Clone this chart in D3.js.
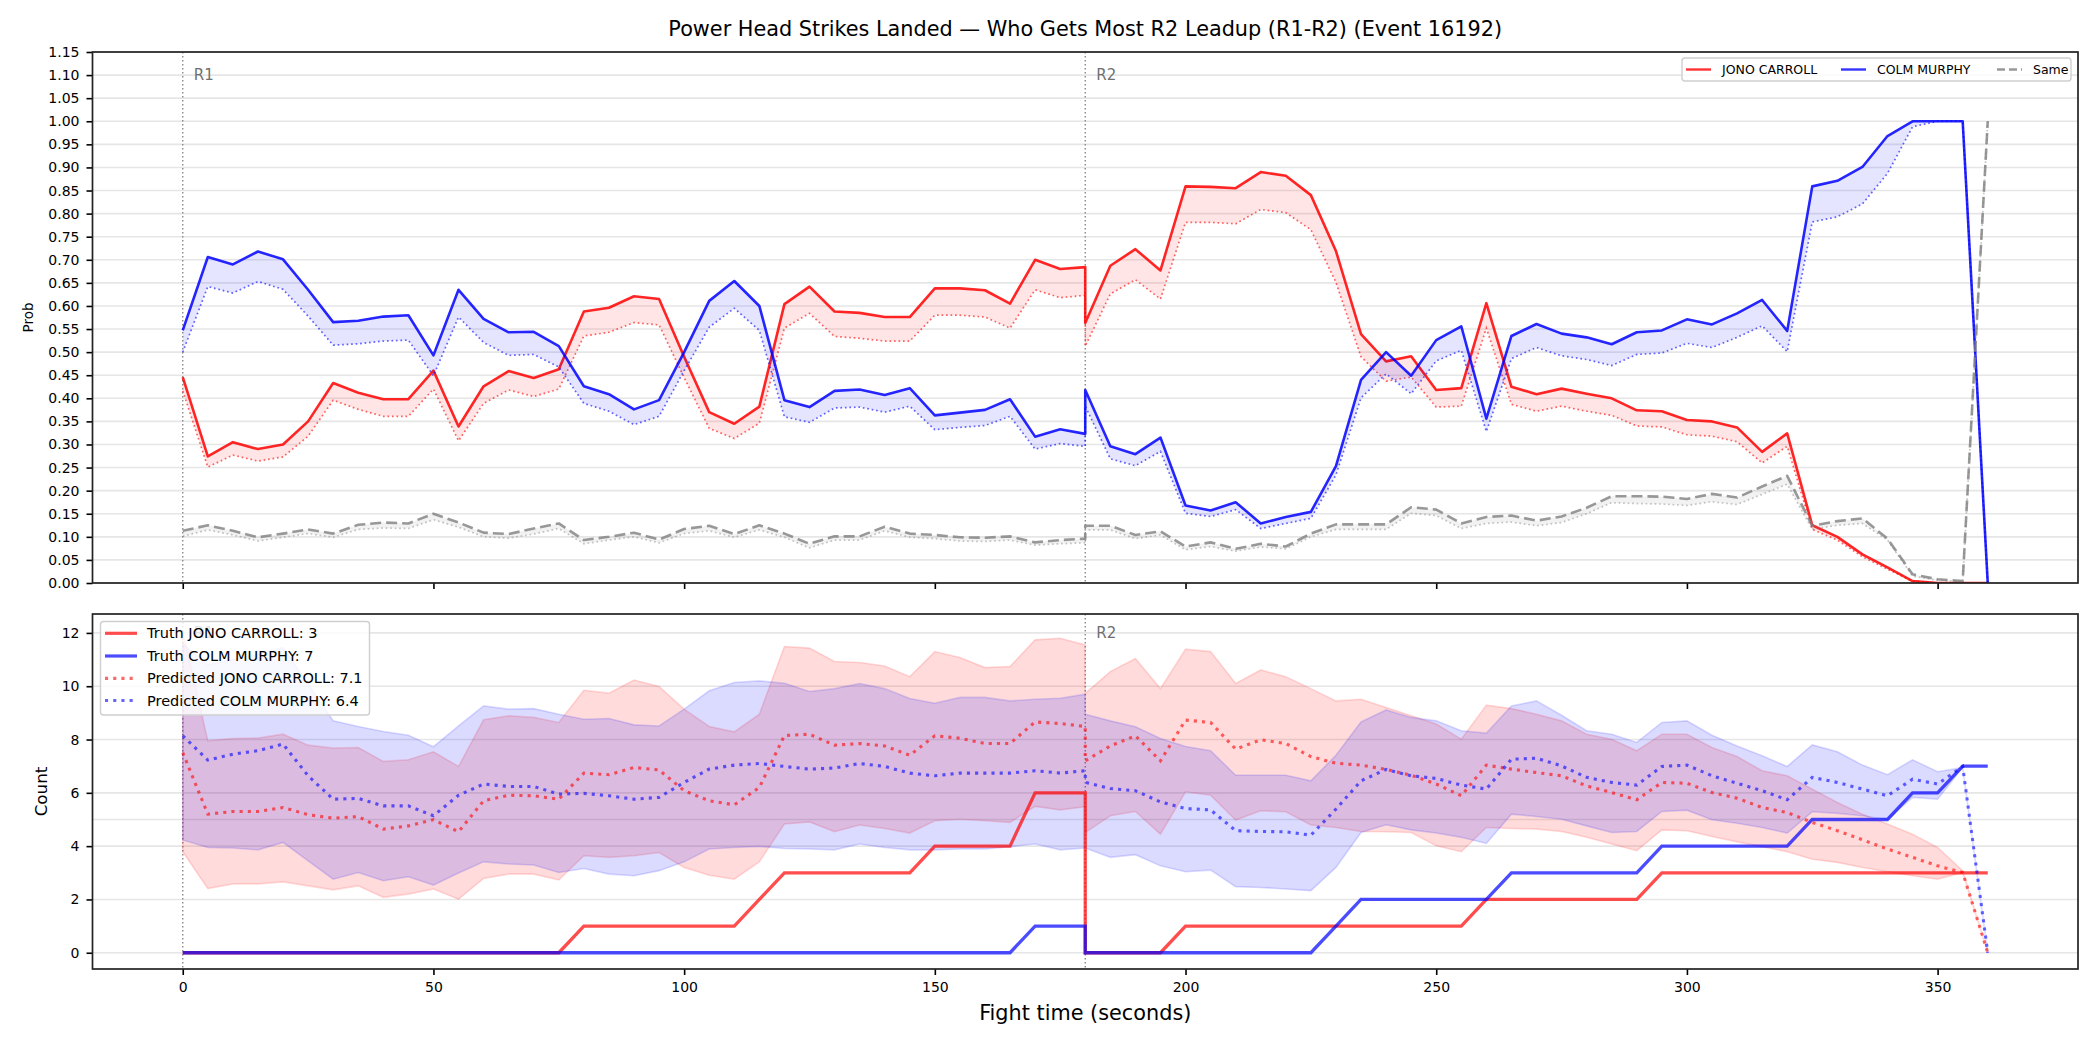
<!DOCTYPE html>
<html>
<head>
<meta charset="utf-8">
<script src="https://cdn.jsdelivr.net/npm/d3@7"></script>
<style>
  body { margin: 0; background: #fff; }
  text { font-family: "DejaVu Sans", sans-serif; }
</style>
</head>
<body>
<svg id="chart" width="2100" height="1050"></svg>
<script>
// fight time (s); round 1 and round 2 both carry a point at 180
const fightTime = [0,5,10,15,20,25,30,35,40,45,50,55,60,65,70,75,80,85,90,95,100,105,110,115,120,125,130,135,140,145,150,155,160,165,170,175,180,
  180,185,190,195,200,205,210,215,220,225,230,235,240,245,250,255,260,265,270,275,280,285,290,295,300,305,310,315,320,325,330,335,340,345,350,355,360];

// top panel: probability of getting most strikes (solid) and lower estimate (dotted)
const jonoProb = [0.446,0.274,0.305,0.290,0.300,0.350,0.433,0.412,0.398,0.398,0.460,0.339,0.426,0.459,0.444,0.463,0.588,0.596,0.621,0.615,0.490,0.370,0.345,0.382,0.604,0.642,0.588,0.585,0.576,0.576,0.638,0.638,0.634,0.605,0.700,0.680,0.684,
  0.563,0.687,0.723,0.677,0.859,0.858,0.855,0.890,0.882,0.840,0.719,0.539,0.480,0.491,0.418,0.422,0.606,0.425,0.409,0.421,0.410,0.400,0.374,0.372,0.353,0.350,0.337,0.284,0.324,0.125,0.100,0.062,0.034,0.004,0,0,0];
const jonoProbLow = [0.416,0.251,0.277,0.264,0.273,0.318,0.396,0.376,0.361,0.361,0.420,0.308,0.389,0.418,0.404,0.420,0.535,0.543,0.564,0.559,0.445,0.335,0.313,0.346,0.552,0.584,0.534,0.530,0.524,0.524,0.580,0.580,0.576,0.552,0.635,0.618,0.623,
  0.513,0.626,0.657,0.615,0.781,0.781,0.778,0.809,0.802,0.765,0.651,0.490,0.437,0.446,0.381,0.383,0.552,0.387,0.372,0.383,0.372,0.363,0.340,0.338,0.321,0.318,0.306,0.260,0.296,0.116,0.093,0.057,0.030,0.004,0,0,0];
const colmProb = [0.547,0.706,0.690,0.718,0.701,0.635,0.565,0.568,0.577,0.580,0.493,0.635,0.572,0.543,0.544,0.513,0.426,0.409,0.376,0.396,0.500,0.611,0.654,0.600,0.396,0.381,0.416,0.419,0.407,0.422,0.363,0.369,0.375,0.398,0.317,0.333,0.323,
  0.418,0.296,0.279,0.315,0.168,0.157,0.175,0.129,0.143,0.154,0.253,0.440,0.500,0.449,0.526,0.556,0.356,0.535,0.561,0.540,0.532,0.517,0.543,0.547,0.571,0.560,0.584,0.613,0.546,0.859,0.871,0.901,0.968,1.0,1.0,1.0,0];
const colmProbLow = [0.500,0.642,0.628,0.653,0.636,0.578,0.515,0.518,0.524,0.526,0.449,0.576,0.521,0.493,0.495,0.468,0.389,0.372,0.343,0.361,0.460,0.554,0.595,0.547,0.360,0.348,0.379,0.381,0.370,0.383,0.332,0.337,0.341,0.361,0.290,0.302,0.296,
  0.383,0.269,0.254,0.285,0.151,0.144,0.159,0.118,0.129,0.140,0.234,0.401,0.453,0.410,0.481,0.504,0.328,0.486,0.510,0.492,0.484,0.471,0.495,0.498,0.519,0.510,0.532,0.557,0.501,0.782,0.793,0.821,0.887,0.988,1.0,1.0,0];
const sameProb = [0.113,0.125,0.113,0.099,0.107,0.116,0.107,0.126,0.131,0.129,0.150,0.131,0.109,0.106,0.118,0.129,0.093,0.100,0.109,0.094,0.117,0.124,0.106,0.125,0.107,0.085,0.101,0.101,0.122,0.107,0.104,0.099,0.098,0.101,0.088,0.093,0.096,
  0.124,0.124,0.104,0.112,0.079,0.088,0.074,0.085,0.079,0.107,0.127,0.127,0.127,0.164,0.159,0.129,0.143,0.146,0.135,0.144,0.163,0.188,0.188,0.187,0.182,0.193,0.185,0.209,0.232,0.124,0.134,0.140,0.096,0.019,0.008,0.004,1.0];
const sameProbLow = [0.101,0.115,0.104,0.091,0.099,0.107,0.099,0.116,0.119,0.118,0.137,0.121,0.100,0.097,0.106,0.118,0.085,0.093,0.100,0.087,0.107,0.113,0.099,0.115,0.099,0.076,0.093,0.093,0.113,0.099,0.096,0.091,0.090,0.093,0.082,0.085,0.087,
  0.115,0.115,0.096,0.104,0.072,0.079,0.069,0.078,0.074,0.100,0.116,0.116,0.116,0.151,0.146,0.118,0.129,0.132,0.124,0.131,0.150,0.174,0.172,0.171,0.168,0.176,0.170,0.192,0.214,0.116,0.125,0.129,0.093,0.015,0.006,0.003,1.0];

// bottom panel: counts
const truthJono = [0,0,0,0,0,0,0,0,0,0,0,0,0,0,0,0,1,1,1,1,1,1,1,2,3,3,3,3,3,3,4,4,4,4,6,6,6,
  0,0,0,0,1,1,1,1,1,1,1,1,1,1,1,1,2,2,2,2,2,2,2,3,3,3,3,3,3,3,3,3,3,3,3,3,3];
const truthColm = [0,0,0,0,0,0,0,0,0,0,0,0,0,0,0,0,0,0,0,0,0,0,0,0,0,0,0,0,0,0,0,0,0,0,1,1,1,
  0,0,0,0,0,0,0,0,0,0,1,2,2,2,2,2,2,3,3,3,3,3,3,4,4,4,4,4,4,5,5,5,5,6,6,7,7];
const predJono = [7.51,5.20,5.30,5.30,5.45,5.18,5.05,5.11,4.64,4.76,4.99,4.54,5.70,5.91,5.89,5.76,6.74,6.68,6.95,6.86,6.08,5.70,5.55,6.20,8.15,8.20,7.79,7.85,7.76,7.41,8.14,8.05,7.85,7.85,8.66,8.60,8.49,
  7.20,7.76,8.14,7.20,8.73,8.64,7.64,7.99,7.85,7.36,7.11,7.04,6.88,6.66,6.33,5.89,7.04,6.89,6.76,6.64,6.26,6.01,5.74,6.39,6.36,6.01,5.80,5.45,5.26,4.89,4.58,4.24,3.89,3.58,3.26,3.01,0];
const predColm = [8.14,7.23,7.45,7.58,7.83,6.64,5.76,5.79,5.51,5.51,5.14,5.91,6.33,6.24,6.24,5.95,5.98,5.89,5.76,5.83,6.39,6.89,7.04,7.10,6.99,6.89,6.93,7.10,6.99,6.74,6.64,6.74,6.74,6.74,6.83,6.74,6.83,
  6.39,6.16,6.08,5.66,5.41,5.36,4.58,4.55,4.54,4.41,5.39,6.45,6.88,6.64,6.54,6.29,6.14,7.26,7.30,7.01,6.58,6.39,6.29,6.99,7.04,6.64,6.36,6.08,5.74,6.58,6.39,6.14,5.89,6.51,6.33,6.99,0];
const jonoHigh = [12.10,7.95,8.04,8.06,8.20,7.79,7.68,7.70,7.18,7.24,7.54,6.99,8.74,8.89,8.83,8.64,9.85,9.74,10.23,9.99,9.14,8.49,8.29,8.95,11.49,11.43,10.93,10.89,10.76,10.36,11.30,11.08,10.70,10.74,11.74,11.80,11.55,
  9.73,10.55,11.04,9.91,11.39,11.30,10.10,10.61,10.36,9.91,9.45,9.51,9.20,8.89,8.58,8.01,9.29,9.16,8.95,8.70,8.20,8.01,7.58,8.20,8.20,7.70,7.36,6.83,6.64,6.14,5.64,5.20,4.83,4.45,3.95,3.08,0];
const jonoLow = [3.79,2.41,2.58,2.58,2.66,2.51,2.36,2.51,2.08,2.20,2.39,2.01,2.79,2.95,2.95,2.73,3.64,3.58,3.64,3.76,3.20,2.91,2.76,3.41,4.83,4.91,4.54,4.79,4.66,4.49,4.95,5.01,4.95,4.89,5.49,5.36,5.48,
  4.51,5.14,5.30,4.45,6.04,5.91,4.98,5.33,5.29,4.79,4.70,4.55,4.54,4.51,4.01,3.79,4.70,4.66,4.64,4.55,4.33,4.08,3.83,4.61,4.58,4.36,4.16,3.98,3.79,3.51,3.39,3.20,3.04,2.89,2.76,3.01,0];
const colmHigh = [11.60,10.80,11.00,11.20,11.45,10.10,8.70,8.49,8.30,8.16,7.73,8.51,9.26,9.14,9.16,8.95,8.76,8.79,8.55,8.51,9.14,9.83,10.14,10.20,10.11,9.80,9.91,10.10,9.91,9.54,9.36,9.58,9.58,9.45,9.51,9.55,9.70,
  8.95,8.70,8.48,8.04,7.74,7.58,6.66,6.66,6.66,6.45,7.41,8.66,9.11,8.83,8.70,8.33,8.24,9.26,9.45,8.91,8.33,8.20,7.89,8.64,8.70,8.16,7.76,7.39,6.99,7.80,7.54,7.04,6.68,7.24,6.79,6.95,0];
const colmLow = [4.23,3.95,3.93,3.86,4.14,3.45,2.76,3.01,2.70,2.85,2.54,2.99,3.41,3.33,3.29,3.01,3.16,2.95,2.89,3.08,3.41,3.89,3.95,3.99,3.91,3.89,3.86,4.08,3.95,3.86,3.86,3.89,3.89,3.98,4.08,3.86,3.93,
  3.93,3.58,3.68,3.26,3.04,3.10,2.48,2.45,2.39,2.33,3.20,4.51,4.80,4.61,4.49,4.33,4.10,5.20,5.11,5.01,4.76,4.51,4.55,5.30,5.35,4.99,4.86,4.70,4.49,5.29,5.23,5.14,4.99,5.83,5.76,6.95,0];

const fighters = ['JONO CARROLL', 'COLM MURPHY'];
const predictedTotals = [7.1, 6.4];
const roundLabels = ['R1', 'R2'];
const roundStarts = [0, 180];
const probTicks = [0,0.05,0.10,0.15,0.20,0.25,0.30,0.35,0.40,0.45,0.50,0.55,0.60,0.65,0.70,0.75,0.80,0.85,0.90,0.95,1.00,1.05,1.10,1.15];
const countTicks = [0,2,4,6,8,10,12];
const countGrid = [0,2,4,5,6,8,10,12];
const timeTicks = [0,50,100,150,200,250,300,350];

const RED = '#ff0000', BLUE = '#0000ff', GRAY = '#808080';
const svg = d3.select('#chart');

const x = d3.scaleLinear().domain([-18, 378]).range([92.5, 2078]);
const yProb = d3.scaleLinear().domain([0, 1.15]).range([583, 52]);
const yCount = d3.scaleLinear().domain([-0.61, 12.71]).range([969, 614]);

function line(y, vals) {
  return d3.line().x((d, i) => x(fightTime[i])).y(d => y(d))(vals);
}
function band(y, lo, hi) {
  return d3.area().x((d, i) => x(fightTime[i])).y0((d, i) => y(lo[i])).y1((d, i) => y(hi[i]))(lo);
}

function setupPanel(y, grid, id, labelY) {
  const [yb, yt] = y.range();
  const [xl, xr] = x.range();
  const g = svg.append('g');
  g.append('clipPath').attr('id', id).append('rect')
    .attr('x', xl).attr('y', yt).attr('width', xr - xl).attr('height', yb - yt);
  g.append('g').selectAll('line').data(grid).join('line')
    .attr('x1', xl).attr('x2', xr).attr('y1', d => y(d)).attr('y2', d => y(d))
    .attr('stroke', '#b0b0b0').attr('stroke-opacity', 0.32).attr('stroke-width', 1.6);
  g.append('g').selectAll('line').data(roundStarts).join('line')
    .attr('x1', d => x(d)).attr('x2', d => x(d)).attr('y1', yt).attr('y2', yb)
    .attr('stroke', GRAY).attr('stroke-width', 1.3).attr('stroke-dasharray', '1.5,2.5');
  g.append('g').selectAll('text').data(roundLabels).join('text')
    .attr('x', (d, i) => x(roundStarts[i]) + 11).attr('y', labelY).attr('dy', '0.35em')
    .attr('font-size', 15).attr('fill', '#707070').text(d => d);
  const plot = g.append('g').attr('clip-path', `url(#${id})`);
  return { g, plot };
}

function finishPanel(g, y, ticks, fmt, showX) {
  const [yb, yt] = y.range();
  const [xl, xr] = x.range();
  const ya = g.append('g').attr('transform', `translate(${xl},0)`)
    .call(d3.axisLeft(y).tickValues(ticks).tickFormat(fmt).tickSize(6).tickPadding(7));
  const xa = g.append('g').attr('transform', `translate(0,${yb})`)
    .call(d3.axisBottom(x).tickValues(timeTicks).tickFormat(showX ? d3.format('d') : '').tickSize(6).tickPadding(7));
  [ya, xa].forEach(a => {
    a.select('.domain').remove();
    a.selectAll('line').attr('stroke', '#000').attr('stroke-width', 1.6);
    a.selectAll('text').attr('font-size', 14).attr('fill', '#000').attr('font-family', '"DejaVu Sans", sans-serif');
  });
  g.append('rect').attr('x', xl).attr('y', yt).attr('width', xr - xl).attr('height', yb - yt)
    .attr('fill', 'none').attr('stroke', '#222').attr('stroke-width', 1.7);
}

// ---------- top panel ----------
const topPanel = setupPanel(yProb, probTicks, 'clipTop', yProb(1.10));
const probSets = [
  { hi: jonoProb, lo: jonoProbLow, c: RED, dash: null },
  { hi: colmProb, lo: colmProbLow, c: BLUE, dash: null },
  { hi: sameProb, lo: sameProbLow, c: GRAY, dash: '11,5' }
];
probSets.forEach(s => {
  topPanel.plot.append('path').attr('d', band(yProb, s.lo, s.hi)).attr('fill', s.c).attr('fill-opacity', 0.1);
  topPanel.plot.append('path').attr('d', line(yProb, s.hi)).attr('fill', 'none')
    .attr('stroke', s.c).attr('stroke-opacity', s.c === GRAY ? 0.8 : 0.85).attr('stroke-width', 2.6)
    .attr('stroke-dasharray', s.dash).attr('stroke-linejoin', 'round');
  topPanel.plot.append('path').attr('d', line(yProb, s.lo)).attr('fill', 'none')
    .attr('stroke', s.c).attr('stroke-opacity', s.c === GRAY ? 0.45 : 0.6).attr('stroke-width', 1.7)
    .attr('stroke-dasharray', '1.7,2.8');
});
finishPanel(topPanel.g, yProb, probTicks, d3.format('.2f'), false);

svg.append('text').attr('x', 28).attr('y', 317.5).attr('dy', '0.35em')
  .attr('transform', 'rotate(-90,28,317.5)').attr('text-anchor', 'middle')
  .attr('font-size', 13.5).text('Prob');

// top legend
const topLeg = svg.append('g');
topLeg.append('rect').attr('x', 1682).attr('y', 58).attr('width', 389).attr('height', 23).attr('rx', 3)
  .attr('fill', '#fff').attr('fill-opacity', 0.8).attr('stroke', '#cfcfcf').attr('stroke-width', 1.4);
const topLegItems = [fighters[0], fighters[1], 'Same'];
const topLegX = [1686, 1841, 1997];
const topLegColor = [RED, BLUE, GRAY];
topLegItems.forEach((lab, i) => {
  topLeg.append('line').attr('x1', topLegX[i]).attr('x2', topLegX[i] + 25).attr('y1', 69.5).attr('y2', 69.5)
    .attr('stroke', topLegColor[i]).attr('stroke-opacity', 0.8).attr('stroke-width', 2.4)
    .attr('stroke-dasharray', i === 2 ? '8,4' : null);
  topLeg.append('text').attr('x', topLegX[i] + 36).attr('y', 69.5).attr('dy', '0.35em')
    .attr('font-size', 12.5).text(lab);
});

// ---------- bottom panel ----------
const botPanel = setupPanel(yCount, countGrid, 'clipBot', yCount(12));
botPanel.plot.append('path').attr('d', band(yCount, jonoLow, jonoHigh))
  .attr('fill', RED).attr('fill-opacity', 0.14).attr('stroke', RED).attr('stroke-opacity', 0.14).attr('stroke-width', 1.6);
botPanel.plot.append('path').attr('d', band(yCount, colmLow, colmHigh))
  .attr('fill', BLUE).attr('fill-opacity', 0.14).attr('stroke', BLUE).attr('stroke-opacity', 0.14).attr('stroke-width', 1.6);
[[truthJono, RED], [truthColm, BLUE]].forEach(([v, c]) => {
  botPanel.plot.append('path').attr('d', line(yCount, v)).attr('fill', 'none')
    .attr('stroke', c).attr('stroke-opacity', 0.7).attr('stroke-width', 3.3);
});
[[predJono, RED], [predColm, BLUE]].forEach(([v, c]) => {
  botPanel.plot.append('path').attr('d', line(yCount, v)).attr('fill', 'none')
    .attr('stroke', c).attr('stroke-opacity', 0.6).attr('stroke-width', 3.1).attr('stroke-dasharray', '3.1,5.1');
});
finishPanel(botPanel.g, yCount, countTicks, d3.format('d'), true);

svg.append('text').attr('x', 41).attr('y', 791.5).attr('dy', '0.35em')
  .attr('transform', 'rotate(-90,41,791.5)').attr('text-anchor', 'middle')
  .attr('font-size', 16.7).text('Count');
svg.append('text').attr('x', (x.range()[0] + x.range()[1]) / 2).attr('y', 1020)
  .attr('text-anchor', 'middle').attr('font-size', 20.8).text('Fight time (seconds)');

// bottom legend
const botLeg = svg.append('g');
botLeg.append('rect').attr('x', 100.5).attr('y', 621.5).attr('width', 269).attr('height', 93.5).attr('rx', 3)
  .attr('fill', '#fff').attr('fill-opacity', 0.8).attr('stroke', '#cfcfcf').attr('stroke-width', 1.4);
const botLegItems = [
  { lab: `Truth ${fighters[0]}: ${truthJono[truthJono.length - 1]}`, c: RED, dash: null },
  { lab: `Truth ${fighters[1]}: ${truthColm[truthColm.length - 1]}`, c: BLUE, dash: null },
  { lab: `Predicted ${fighters[0]}: ${predictedTotals[0]}`, c: RED, dash: '3.1,5.1' },
  { lab: `Predicted ${fighters[1]}: ${predictedTotals[1]}`, c: BLUE, dash: '3.1,5.1' }
];
const botLegY = [633.3, 656, 678.3, 700.5];
botLegItems.forEach((it, i) => {
  botLeg.append('line').attr('x1', 105).attr('x2', 137).attr('y1', botLegY[i]).attr('y2', botLegY[i])
    .attr('stroke', it.c).attr('stroke-opacity', it.dash ? 0.6 : 0.7).attr('stroke-width', 3.2)
    .attr('stroke-dasharray', it.dash);
  botLeg.append('text').attr('x', 147).attr('y', botLegY[i]).attr('dy', '0.35em')
    .attr('font-size', 14.5).text(it.lab);
});

// title
svg.append('text').attr('x', (x.range()[0] + x.range()[1]) / 2).attr('y', 36)
  .attr('text-anchor', 'middle').attr('font-size', 20.8)
  .text('Power Head Strikes Landed — Who Gets Most R2 Leadup (R1-R2) (Event 16192)');
</script>
</body>
</html>
